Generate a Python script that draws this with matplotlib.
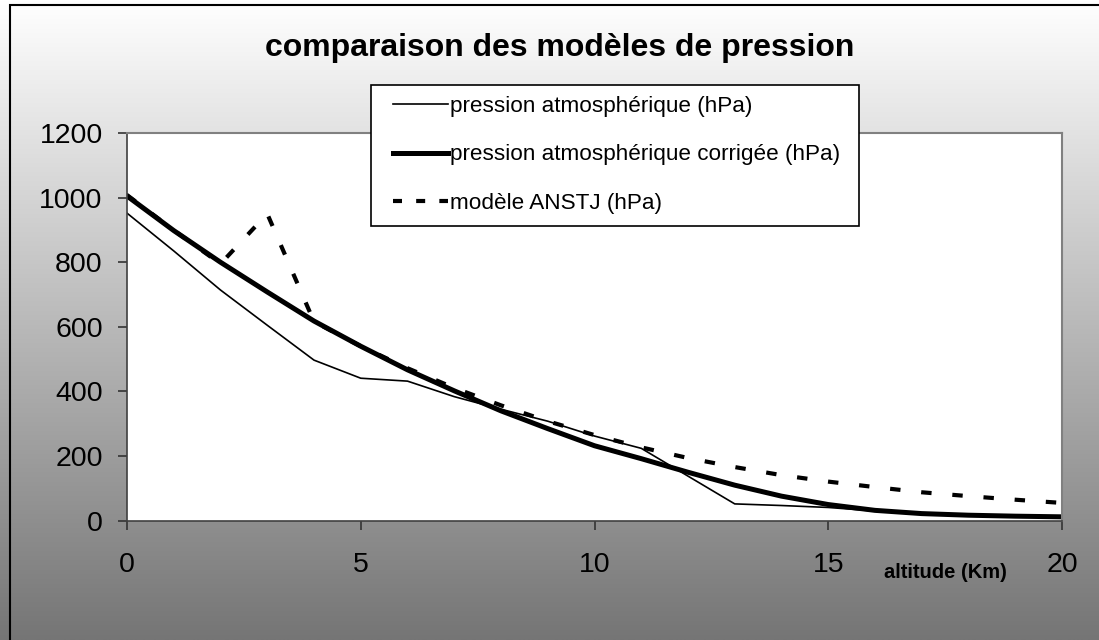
import numpy as np
import matplotlib
matplotlib.use("Agg")
import matplotlib.pyplot as plt
from matplotlib.patches import Rectangle

altitude = list(range(0, 21))
pression_atm = [952, 835, 714, 605, 497, 441, 432, 384, 345, 308, 262, 224, 138, 52, 47, 41, 30, 22, 17, 14, 12]
pression_corr = [1005, 898, 800, 708, 618, 540, 467, 402, 340, 285, 232, 192, 150, 110, 76, 50, 32, 22, 17, 14, 12]
anstj = [1008, 899, 795, 950, 616, 540, 472, 411, 357, 308, 265, 227, 194, 166, 141, 121, 104, 88, 76, 65, 55]

labels = ["pression atmosphérique (hPa)",
          "pression atmosphérique corrigée (hPa)",
          "modèle ANSTJ (hPa)"]
title = "comparaison des modèles de pression"
xlabel = "altitude (Km)"
yticks = [0, 200, 400, 600, 800, 1000, 1200]
xticks = [0, 5, 10, 15, 20]

plt.rcParams['font.family'] = ['Liberation Sans', 'DejaVu Sans']

W, H = 1099, 640
fig = plt.figure(figsize=(W / 100, H / 100), dpi=100)

# background gradient
bg = fig.add_axes([0, 0, 1, 1], zorder=-10)
grad = np.linspace(255, 117, 400)[:, None] / 255.0
grad = np.repeat(grad, 2, axis=1)
bg.imshow(np.dstack([grad, grad, grad]), aspect='auto', extent=[0, 1, 0, 1],
          origin='upper')
bg.set_xlim(0, 1)
bg.set_ylim(0, 1)
bg.axis('off')
bg.add_patch(Rectangle((10 / W, -0.1), 1.2, 1 - 5 / H + 0.1, fill=False,
                       edgecolor='black', linewidth=1.5))

left, right, top, bottom = 127, 1062, 133, 520.7
ax = fig.add_axes([left / W, 1 - bottom / H, (right - left) / W, (bottom - top) / H])
ax.set_facecolor('white')

ax.plot(altitude, pression_atm, color='black', linewidth=1.2, label=labels[0])
ax.plot(altitude, pression_corr, color='black', linewidth=3.6, label=labels[1],
        solid_joinstyle='round')
ax.plot(altitude, anstj, color='black', linewidth=3.0, label=labels[2],
        dashes=(2.5, 5.0), dash_capstyle='butt')

ax.set_xlim(0, 20)
ax.set_ylim(0, 1200)
ax.set_xticks(xticks)
ax.set_yticks(yticks)
ax.tick_params(axis='both', labelsize=20.5, color='#333333', width=1.2)
ax.tick_params(axis='y', direction='out', length=6.5, pad=11)
ax.tick_params(axis='x', direction='out', length=6.5, pad=16)

for s in ['top', 'right']:
    ax.spines[s].set_color('#808080')
    ax.spines[s].set_linewidth(1.5)
for s in ['left', 'bottom']:
    ax.spines[s].set_color('#404040')
    ax.spines[s].set_linewidth(1.2)

ax.set_xlabel(xlabel, fontsize=14.5, fontweight='bold')
ax.xaxis.set_label_coords((945 - left) / (right - left), (bottom - 573) / (bottom - top))
ax.xaxis.label.set_verticalalignment('center')

fig.text(560 / W, 1 - 48 / H, title, ha='center', va='center', fontsize=23,
         fontweight='bold')

# legend frame
ax.add_patch(Rectangle((371 / W, 1 - 226 / H), (859 - 371) / W, (226 - 85) / H,
                       transform=fig.transFigure, facecolor='white',
                       edgecolor='black', linewidth=1.2, zorder=4, clip_on=False))

leg = ax.legend(loc='center left', bbox_to_anchor=(393 / W, 1 - 155 / H),
                bbox_transform=fig.transFigure, borderaxespad=0, borderpad=0,
                fontsize=16.2, frameon=False, handlelength=2.44,
                handletextpad=0.09, labelspacing=1.22)
leg.set_zorder(6)
leg.get_lines()[2].set_dashes((2.16, 3.4))

fig.savefig('out.png', dpi=100)
